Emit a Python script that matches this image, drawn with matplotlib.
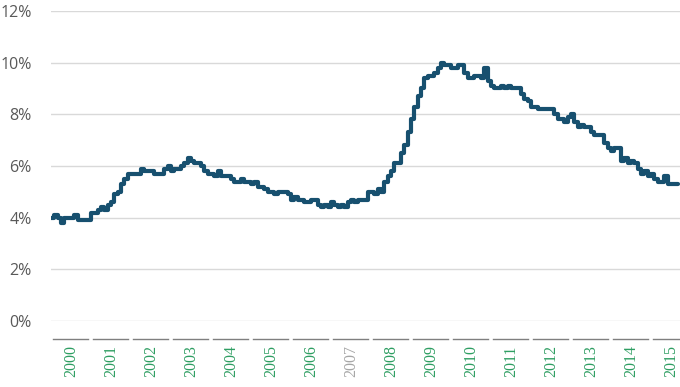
import numpy as np
import matplotlib.pyplot as plt
import matplotlib.transforms as mtransforms

# monthly unemployment rate (%), Jan 2000 onwards
rate_2000 = [4.0, 4.1, 4.0, 3.8, 4.0, 4.0, 4.0, 4.1, 3.9, 3.9, 3.9, 3.9]
rate_2001 = [4.2, 4.2, 4.3, 4.4, 4.3, 4.5, 4.6, 4.9, 5.0, 5.3, 5.5, 5.7]
rate_2002 = [5.7, 5.7, 5.7, 5.9, 5.8, 5.8, 5.8, 5.7, 5.7, 5.7, 5.9, 6.0]
rate_2003 = [5.8, 5.9, 5.9, 6.0, 6.1, 6.3, 6.2, 6.1, 6.1, 6.0, 5.8, 5.7]
rate_2004 = [5.7, 5.6, 5.8, 5.6, 5.6, 5.6, 5.5, 5.4, 5.4, 5.5, 5.4, 5.4]
rate_2005 = [5.3, 5.4, 5.2, 5.2, 5.1, 5.0, 5.0, 4.9, 5.0, 5.0, 5.0, 4.9]
rate_2006 = [4.7, 4.8, 4.7, 4.7, 4.6, 4.6, 4.7, 4.7, 4.5, 4.4, 4.5, 4.4]
rate_2007 = [4.6, 4.5, 4.4, 4.5, 4.4, 4.6, 4.7, 4.6, 4.7, 4.7, 4.7, 5.0]
rate_2008 = [5.0, 4.9, 5.1, 5.0, 5.4, 5.6, 5.8, 6.1, 6.1, 6.5, 6.8, 7.3]
rate_2009 = [7.8, 8.3, 8.7, 9.0, 9.4, 9.5, 9.5, 9.6, 9.8, 10.0, 9.9, 9.9]
rate_2010 = [9.8, 9.8, 9.9, 9.9, 9.6, 9.4, 9.4, 9.5, 9.5, 9.4, 9.8, 9.3]
rate_2011 = [9.1, 9.0, 9.0, 9.1, 9.0, 9.1, 9.0, 9.0, 9.0, 8.8, 8.6, 8.5]
rate_2012 = [8.3, 8.3, 8.2, 8.2, 8.2, 8.2, 8.2, 8.0, 7.8, 7.8, 7.7, 7.9]
rate_2013 = [8.0, 7.7, 7.5, 7.6, 7.5, 7.5, 7.3, 7.2, 7.2, 7.2, 6.9, 6.7]
rate_2014 = [6.6, 6.7, 6.7, 6.2, 6.3, 6.1, 6.2, 6.1, 5.9, 5.7, 5.8, 5.6]
rate_2015 = [5.7, 5.5, 5.4, 5.4, 5.6, 5.3, 5.3, 5.3, 5.3]

years = list(range(2000, 2016))
y_ticks = [0, 2, 4, 6, 8, 10, 12]

rate = np.array(rate_2000 + rate_2001 + rate_2002 + rate_2003 + rate_2004
                + rate_2005 + rate_2006 + rate_2007 + rate_2008 + rate_2009
                + rate_2010 + rate_2011 + rate_2012 + rate_2013 + rate_2014
                + rate_2015)
t = 2000 + np.arange(len(rate)) / 12.0

fig = plt.figure(figsize=(6.8, 3.87), dpi=100)
ax = fig.add_axes([0.075, 0.1705, 0.925, 0.8011])

ax.plot(t, rate, drawstyle='steps-post', color='#17506f', lw=3.0,
        solid_joinstyle='round', solid_capstyle='round', zorder=3)

ax.set_xlim(2000, 2015.725)
ax.set_ylim(0, 12)
ax.set_yticks(y_ticks)
ax.set_yticklabels([f'{v}%' for v in y_ticks], color='#595959',
                   fontsize=11.5, family='Open Sans')
ax.tick_params(axis='y', length=0, pad=14)
ax.grid(axis='y', color='#d9d9d9', lw=1)
ax.set_axisbelow(True)
for s in ax.spines.values():
    s.set_visible(False)
ax.set_xticks([])

# year groups: a short rule under each year with the label below it
trans = mtransforms.blended_transform_factory(ax.transData, ax.transAxes)
for yr in years:
    ax.plot([yr + 0.06, yr + 0.92], [-0.058, -0.058], color='#7f7f7f',
            lw=1, transform=trans, clip_on=False)
    colour = '#a6a6a6' if yr == 2007 else '#2e9e62'
    ax.text(yr + 0.5, -0.078, str(yr), rotation=90, ha='center', va='top',
            fontsize=11.5, family='Liberation Serif', color=colour,
            transform=trans, clip_on=False)

fig.savefig('out.png', dpi=100)
